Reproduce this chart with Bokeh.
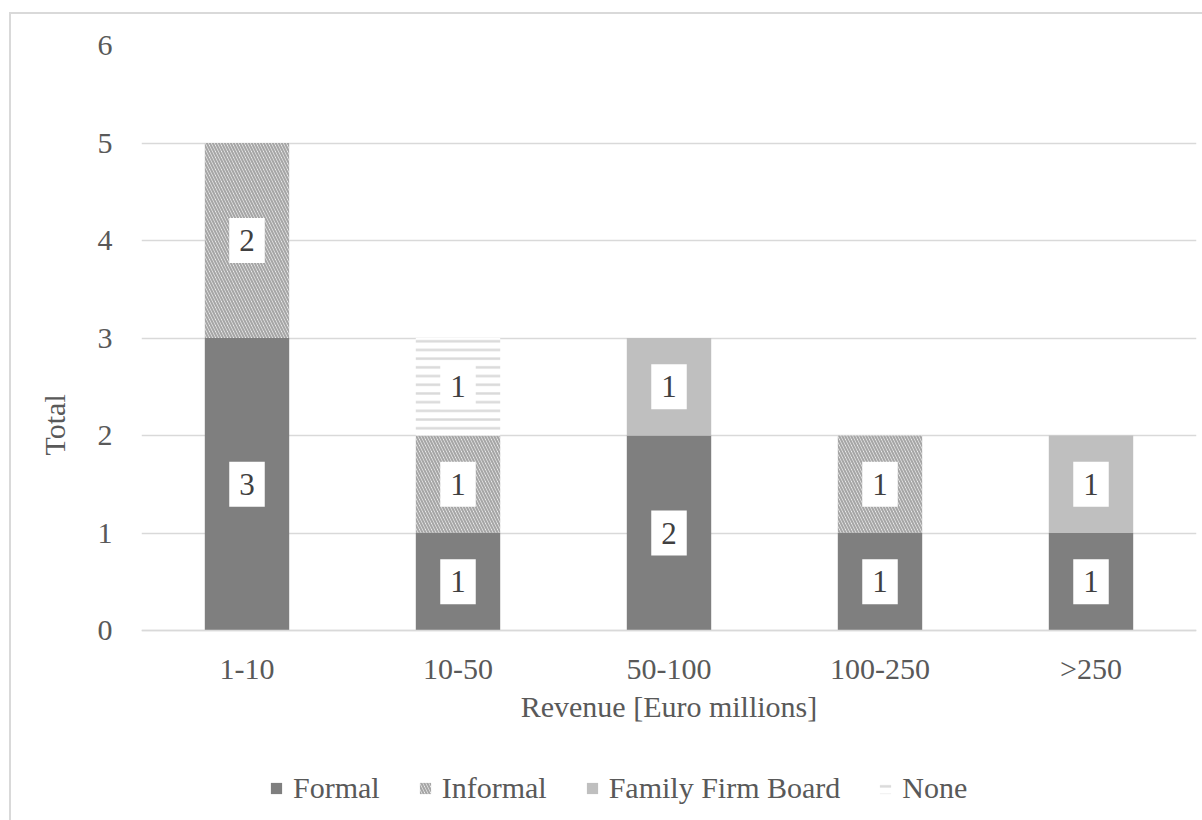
import math
from bokeh.plotting import figure
from bokeh.models import (FactorRange, Range1d, FixedTicker, Legend, LegendItem,
                          Title, ColumnDataSource)
from bokeh.core.properties import value
from bokeh.embed import file_html
from bokeh.resources import INLINE

# ---- data ----
categories = ["1-10", "10-50", "50-100", "100-250", ">250"]
formal = [3, 1, 2, 1, 1]
informal = [2, 1, 0, 1, 0]
family_board = [0, 0, 1, 0, 1]
none_ = [0, 1, 0, 0, 0]
series_names = ["Formal", "Informal", "Family Firm Board", "None"]
y_ticks = [0, 1, 2, 3, 4, 5, 6]

FONT = "Liberation Serif"
TXT = "#595959"

data = {"cat": categories, "Formal": formal, "Informal": informal,
        "Family Firm Board": family_board, "None": none_}
src = ColumnDataSource(data)

# the frame extends below 0 so that the axis texts and legend sit inside it
p = figure(x_range=FactorRange(*categories), y_range=Range1d(-1.897, 6),
           frame_width=1055, frame_height=770,
           output_backend="svg", toolbar_location=None,
           min_border_left=120, min_border_right=16, min_border_top=31,
           min_border_bottom=5)
p.styles = {"margin-left": "9px", "margin-top": "12px",
            "border-left": "2px solid #d9d9d9", "border-top": "2px solid #d9d9d9"}
p.outline_line_color = None
p.background_fill_color = "white"

fills = ["#7f7f7f", "white", "#bfbfbf", "white"]
hatches = [" ", "\\", " ", "-"]
hatch_colors = ["#7f7f7f", "#a6a6a6", "#bfbfbf", "#d9d9d9"]
hatch_scales = [8, 6, 8, 8.7]
hatch_weights = [1, 2.2, 1, 2.4]

renderers = p.vbar_stack(series_names, x="cat", width=0.4, source=src,
                         fill_color=fills, line_color=None,
                         hatch_pattern=hatches, hatch_color=hatch_colors,
                         hatch_scale=hatch_scales, hatch_weight=hatch_weights)

# data labels
lx, ly, lt = [], [], []
for i, c in enumerate(categories):
    base = 0
    for s in series_names:
        v = data[s][i]
        if v > 0:
            lx.append(c)
            ly.append(base + v / 2)
            lt.append(str(v))
        base += v
lab_src = ColumnDataSource(dict(x=lx, y=ly, t=lt))
p.text(x="x", y="y", text="t", source=lab_src,
       text_align="center", text_baseline="middle",
       text_font=value(FONT), text_font_size="31px", text_color="#404040",
       background_fill_color="white", padding=(10, 12))

# axes
p.yaxis.ticker = FixedTicker(ticks=y_ticks)
p.ygrid.ticker = FixedTicker(ticks=y_ticks)
p.ygrid.grid_line_color = "#d9d9d9"
p.ygrid.grid_line_width = 1.5
p.xgrid.grid_line_color = None

for ax in (p.xaxis[0], p.yaxis[0]):
    ax.major_tick_line_color = None
    ax.minor_tick_line_color = None
    ax.major_label_text_font = FONT
    ax.major_label_text_font_size = "30px"
    ax.major_label_text_color = TXT
    ax.axis_label_text_font = FONT
    ax.axis_label_text_font_size = "30px"
    ax.axis_label_text_color = TXT
    ax.axis_label_text_font_style = "normal"

p.yaxis.axis_line_color = None
p.yaxis.major_label_standoff = 23
p.xaxis.fixed_location = 0
p.xaxis.axis_line_color = "#d9d9d9"
p.xaxis.axis_line_width = 1.5
p.xaxis.major_label_standoff = 15
p.xaxis.axis_label = "Revenue [Euro millions]"
p.xaxis.axis_label_standoff = 2

ytitle = Title(text="Total", align="left", offset=360,
               text_font=FONT, text_font_size="30px", text_color=TXT,
               text_font_style="normal", standoff=48)
p.add_layout(ytitle, "left")

legend = Legend(items=[LegendItem(label=n, renderers=[r]) for n, r in zip(series_names, renderers)],
                orientation="horizontal", location=(128, 10),
                label_text_font=FONT, label_text_font_size="30px", label_text_color=TXT,
                glyph_width=14, glyph_height=14, label_standoff=10, spacing=38,
                border_line_color=None, background_fill_alpha=0, padding=0, margin=0)
p.add_layout(legend)

open("out.html", "w").write(file_html(p, INLINE))
